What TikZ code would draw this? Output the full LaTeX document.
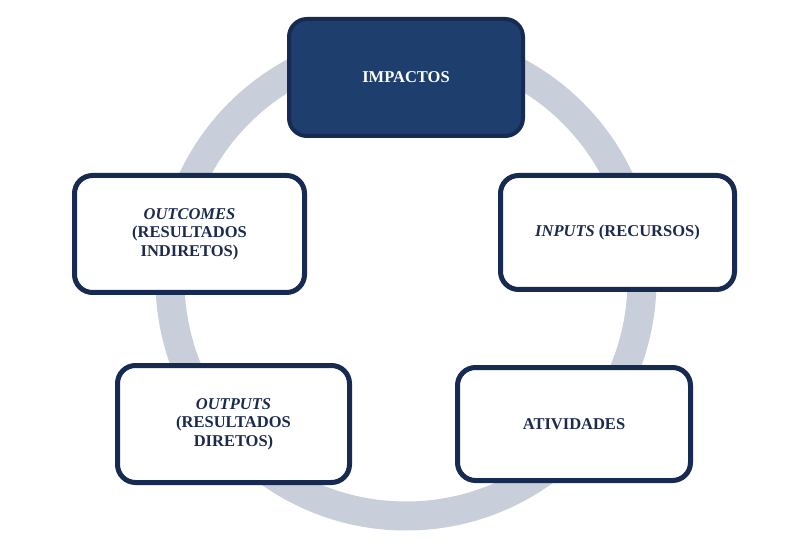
\documentclass[tikz,border=0pt]{standalone}
\usepackage{fontspec}
\setmainfont{Liberation Serif}
\definecolor{navy}{HTML}{172A52}
\definecolor{navyfill}{HTML}{1E3E6E}
\definecolor{ringgray}{HTML}{C8CFDB}
\definecolor{textnavy}{HTML}{1B2A4E}
\tikzset{
  stagebox/.style={draw=navy, line width=5pt, fill=white, rounded corners=18pt,
    inner sep=0pt, align=center, text=textnavy,
    font=\fontsize{16.5}{18.5}\selectfont\bfseries},
  topbox/.style={stagebox, fill=navyfill, line width=4pt, text=white},
}
\begin{document}
\begin{tikzpicture}[x=1pt,y=-1pt]
\useasboundingbox (0,0) rectangle (785,556);
\fill[white] (0,0) rectangle (785,556);
% ring
\draw[ringgray, line width=29pt] (406,280) circle [radius=236pt];
% boxes
\node[topbox, minimum width=234pt, minimum height=117pt] (imp) at (406,77.5) {IMPACTOS};
\node[stagebox, minimum width=230pt, minimum height=117pt] (out) at (189.5,234) {\textit{OUTCOMES}\\(RESULTADOS\\INDIRETOS)};
\node[stagebox, minimum width=234pt, minimum height=114pt] (inp) at (617.5,232.5) {\textit{INPUTS} (RECURSOS)};
\node[stagebox, minimum width=232pt, minimum height=117pt] (outp) at (233.5,424) {\textit{OUTPUTS}\\(RESULTADOS\\DIRETOS)};
\node[stagebox, minimum width=233pt, minimum height=113pt] (ativ) at (574,424) {ATIVIDADES};
\end{tikzpicture}
\end{document}
